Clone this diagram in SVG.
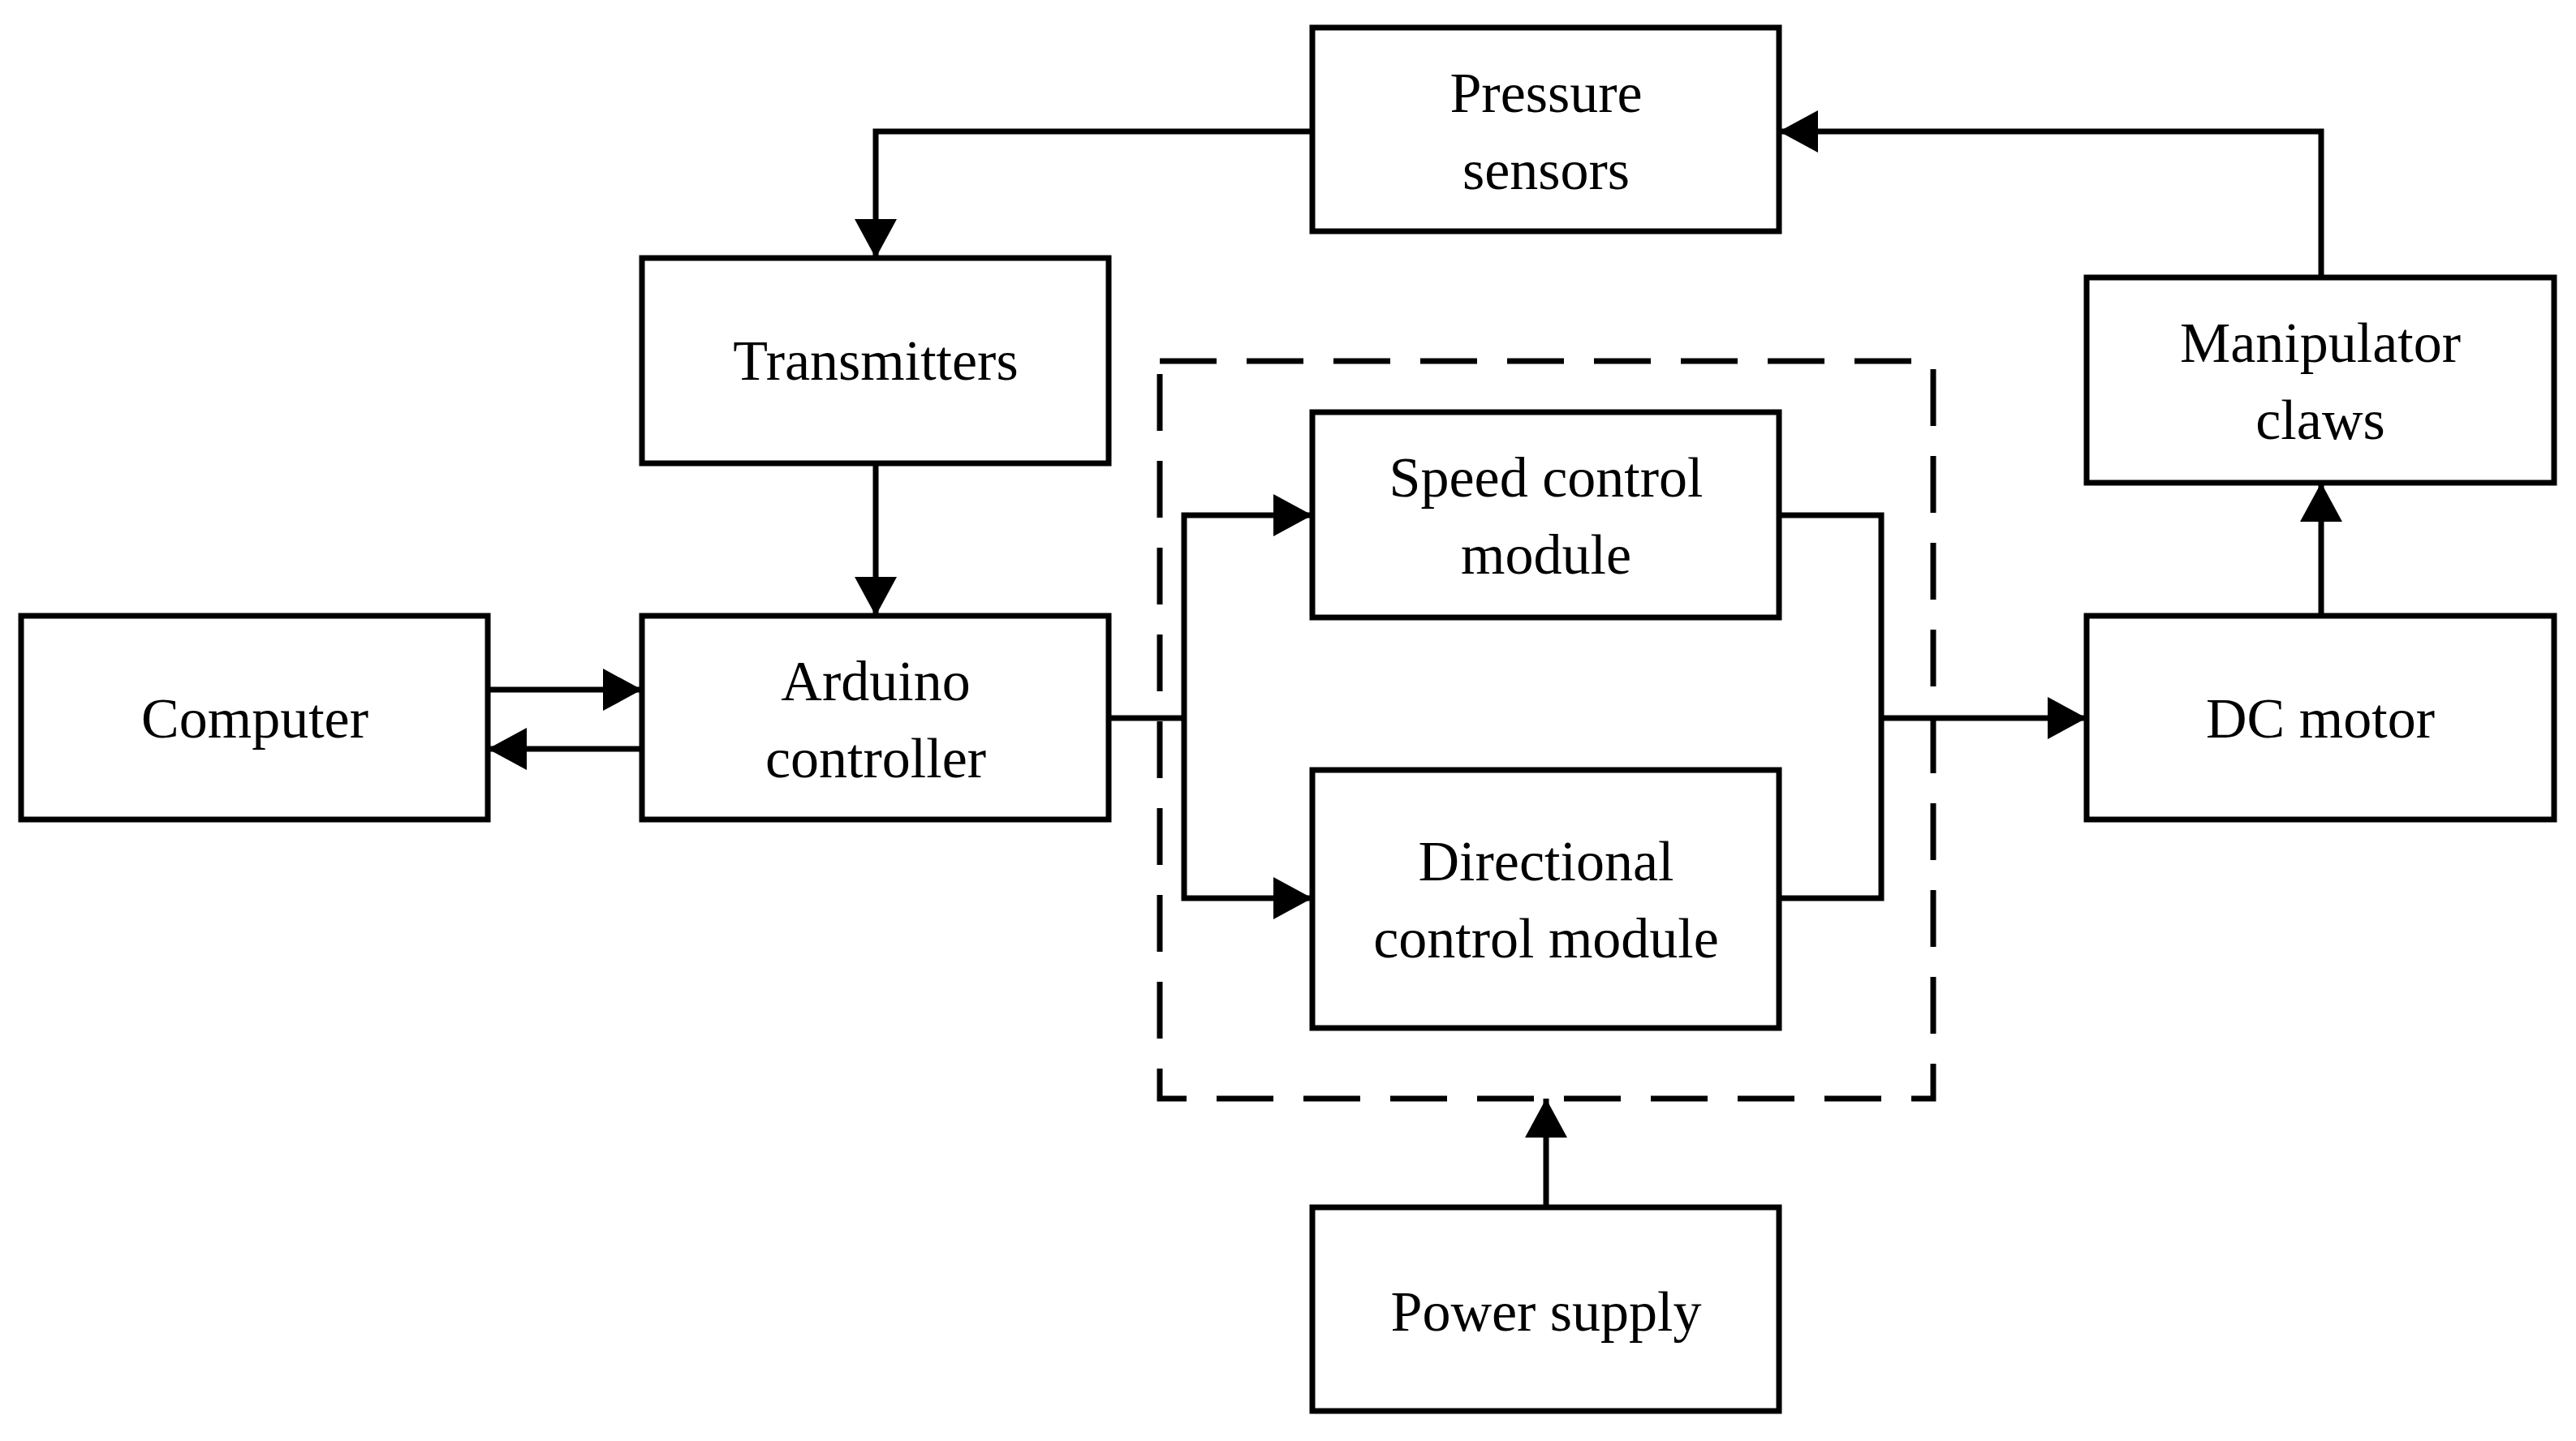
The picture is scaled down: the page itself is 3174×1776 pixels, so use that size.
<svg xmlns="http://www.w3.org/2000/svg" width="3174" height="1776" viewBox="0 0 3174 1776">
<defs>
<marker id="ah" markerUnits="userSpaceOnUse" markerWidth="50" markerHeight="52" refX="48" refY="26" orient="auto"><path d="M0,0 L48,26 L0,52 Z" fill="#000"/></marker>
<style>
.b{fill:#fff;stroke:#000;stroke-width:7}
.t{font-family:"Liberation Serif","Times New Roman",serif;font-size:70px;text-anchor:middle;fill:#000}
.c{fill:none;stroke:#000;stroke-width:7}
.a{fill:none;stroke:#000;stroke-width:7;marker-end:url(#ah)}
</style>
</defs>
<rect width="3174" height="1776" fill="#fff"/>
<g id="group-dashed"><rect x="1429" y="445" width="953" height="909" fill="none" stroke="#000" stroke-width="7" stroke-dasharray="70,37"/></g>
<g id="pressure"><rect class="b" x="1617" y="34" width="575" height="251"/><text class="t" x="1905" y="138">Pressure</text><text class="t" x="1905" y="233">sensors</text></g>
<g id="transmitters"><rect class="b" x="791" y="318" width="575" height="253"/><text class="t" x="1079" y="468">Transmitters</text></g>
<g id="manipulator"><rect class="b" x="2571" y="342" width="576" height="253"/><text class="t" x="2859" y="446">Manipulator</text><text class="t" x="2859" y="541">claws</text></g>
<g id="speed"><rect class="b" x="1617" y="508" width="575" height="253"/><text class="t" x="1905" y="612">Speed control</text><text class="t" x="1905" y="707">module</text></g>
<g id="directional"><rect class="b" x="1617" y="949" width="575" height="318"/><text class="t" x="1905" y="1085">Directional</text><text class="t" x="1905" y="1180">control module</text></g>
<g id="computer"><rect class="b" x="26" y="759" width="575" height="251"/><text class="t" x="314" y="909">Computer</text></g>
<g id="arduino"><rect class="b" x="791" y="759" width="575" height="251"/><text class="t" x="1079" y="863">Arduino</text><text class="t" x="1079" y="958">controller</text></g>
<g id="dcmotor"><rect class="b" x="2571" y="759" width="576" height="251"/><text class="t" x="2859" y="909">DC motor</text></g>
<g id="power"><rect class="b" x="1617" y="1488" width="575" height="251"/><text class="t" x="1905" y="1640">Power supply</text></g>
<g id="connectors">
<path class="a" d="M1617,162 H1079 V318"/>
<path class="a" d="M2860,342 V162 H2192"/>
<path class="a" d="M1079,571 V759"/>
<path class="a" d="M601,850 H791"/>
<path class="a" d="M791,923 H601"/>
<path class="c" d="M1366,885 H1459"/>
<path class="a" d="M1459,885 V635 H1617"/>
<path class="a" d="M1459,885 V1107 H1617"/>
<path class="c" d="M2192,635 H2318 V1107 H2192"/>
<path class="a" d="M2318,885 H2571"/>
<path class="a" d="M2860,759 V595"/>
<path class="a" d="M1905,1488 V1354"/>
</g>
</svg>
